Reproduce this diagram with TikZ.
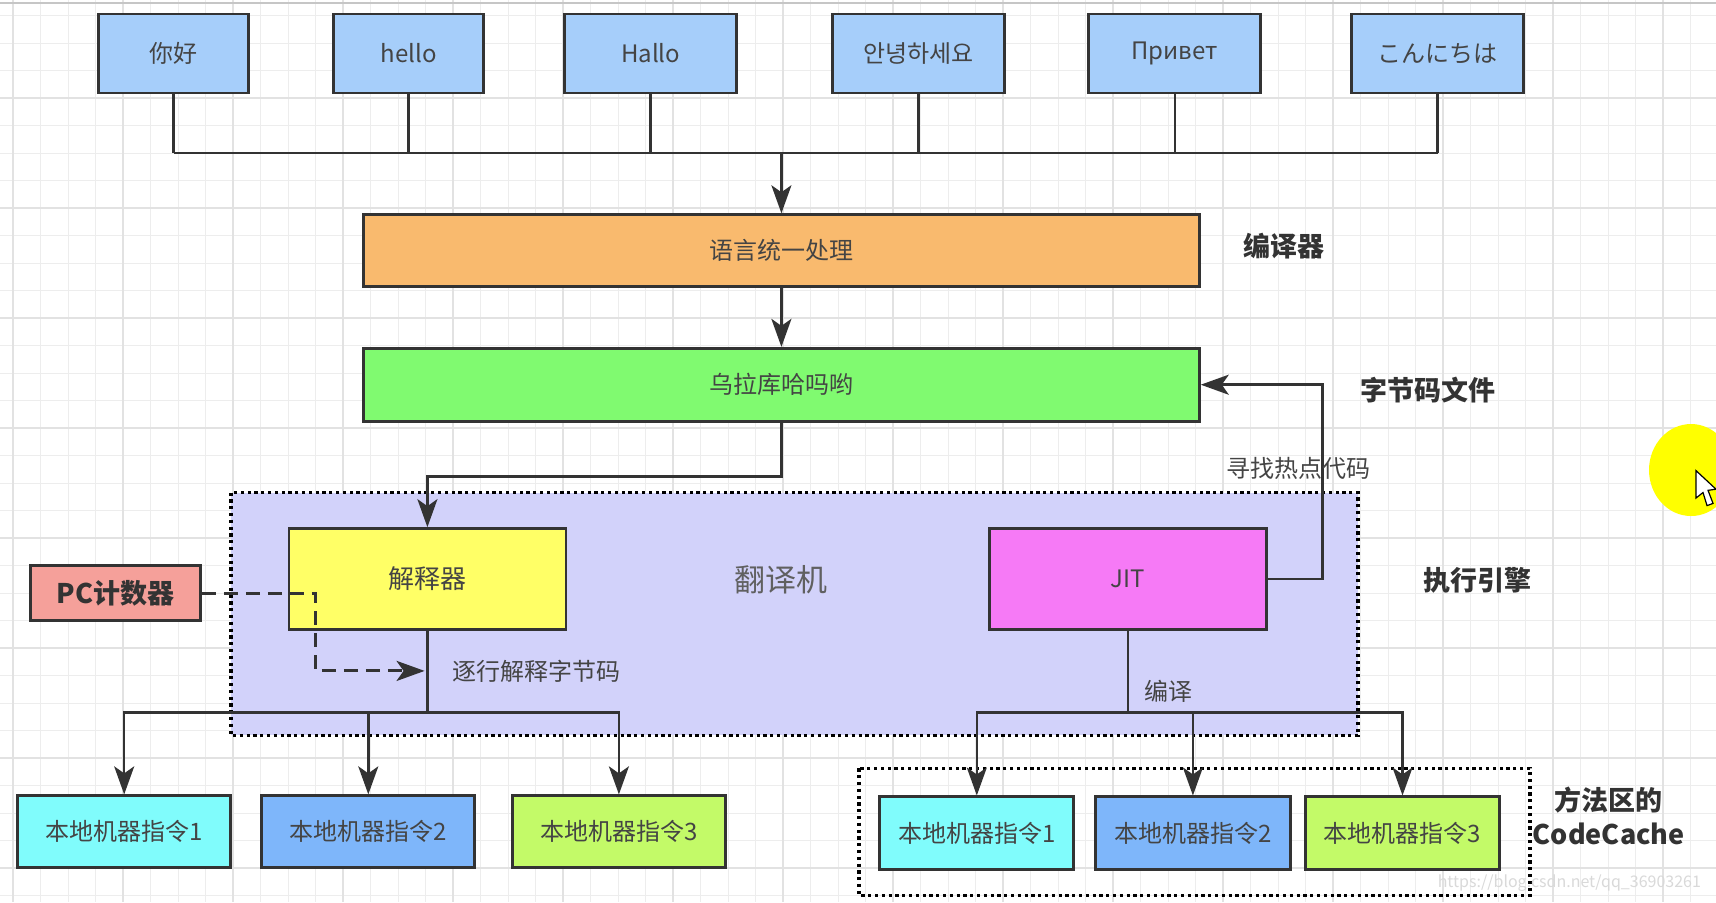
\documentclass[tikz,border=0pt]{standalone}
\usepackage{fontspec}
\setmainfont{Noto Sans CJK SC}
\usetikzlibrary{arrows.meta,positioning}

\definecolor{lineGray}{HTML}{333333}
\definecolor{textGray}{HTML}{444444}
\definecolor{gridGray}{HTML}{EDEDED}
\definecolor{gridDark}{HTML}{E2E2E2}
\definecolor{langBlue}{HTML}{A6CEFA}
\definecolor{unifyOrange}{HTML}{F9BA6E}
\definecolor{byteGreen}{HTML}{80FA70}
\definecolor{engineLilac}{HTML}{D2D2FA}
\definecolor{interpYellow}{HTML}{FFFF66}
\definecolor{jitPink}{HTML}{F67AF6}
\definecolor{pcRed}{HTML}{F5A09A}
\definecolor{codeCyan}{HTML}{80FCFC}
\definecolor{codeBlue}{HTML}{7EB6FA}
\definecolor{codeLime}{HTML}{C3FA68}
\definecolor{cursorYellow}{HTML}{FFFF00}

\begin{document}
\begin{tikzpicture}[
    x=0.5pt, y=-0.5pt,
    box/.style={draw=lineGray, line width=1.35pt, inner sep=0pt, text=textGray, font=\fontsize{12}{14}\selectfont},
    wire/.style={draw=lineGray, line width=1.25pt},
    arrow_line/.style={wire, -{Stealth[length=14pt, width=10pt, inset=3.5pt]}},
    dashed_arrow/.style={arrow_line, line width=1.5pt, dash pattern=on 7pt off 4pt},
    dotted_region/.style={draw=black, line width=1.6pt, dash pattern=on 1.6pt off 1.8pt},
    side_label/.style={font=\bfseries\fontsize{13.5}{17}\selectfont, text=lineGray},
    note/.style={font=\fontsize{12}{14}\selectfont, text=textGray},
    grid_line/.style={draw=gridGray, line width=0.5pt},
    grid_major/.style={draw=gridDark, line width=0.9pt}
]
    % Define coordinates
    \def\topY{53.5}
    \def\busY{153.2}
    \def\lowBusY{712.5}
    \def\engY{579}

    \useasboundingbox (0,0) rectangle (1716,902);
    \fill[white] (0,0) rectangle (1716,902);

    % Background grid
    \foreach \k in {0,...,62} {
        \draw[grid_line] ({13.3+27.5*\k},0) -- ({13.3+27.5*\k},902);
    }
    \foreach \k in {0,...,32} {
        \draw[grid_line] (0,{15.8+27.5*\k}) -- (1716,{15.8+27.5*\k});
    }
    \foreach \k in {0,...,15} {
        \draw[grid_major] ({13.3+110*\k},0) -- ({13.3+110*\k},902);
    }
    \foreach \k in {1,...,8} {
        \draw[grid_major] (0,{-11.7+110*\k}) -- (1716,{-11.7+110*\k});
    }
    \draw[gray!45, line width=1pt] (0,3) -- (1716,3);

    % Execution engine and code cache regions
    \draw[dotted_region, fill=engineLilac] (231,492.5) rectangle (1358,735.4);
    \draw[dotted_region] (859,768.3) rectangle (1530,895.2);

    % Source languages
    \node[box, fill=langBlue, minimum width=75pt, minimum height=39.5pt] (nihao) at (173.5,\topY) {你好};
    \node[box, fill=langBlue, minimum width=75pt, minimum height=39.5pt] (hello) at (408.7,\topY) {hello};
    \node[box, fill=langBlue, minimum width=86pt, minimum height=39.5pt] (hallo) at (650.6,\topY) {Hallo};
    \node[box, fill=langBlue, minimum width=86pt, minimum height=39.5pt] (annyeong) at (918.7,\topY) {안녕하세요};
    \node[box, fill=langBlue, minimum width=86pt, minimum height=39.5pt] (privet) at (1174.8,\topY) {Привет};
    \node[box, fill=langBlue, minimum width=86pt, minimum height=39.5pt] (konnichiwa) at (1437.5,\topY) {こんにちは};

    % Compiler and bytecode
    \node[box, fill=unifyOrange, minimum width=418pt, minimum height=36pt] (unify) at (781.4,250.6) {语言统一处理};
    \node[box, fill=byteGreen, minimum width=418pt, minimum height=36.5pt] (bytecode) at (781.4,384.7) {乌拉库哈吗哟};

    % Engine parts
    \node[box, fill=interpYellow, minimum width=138.5pt, minimum height=50.5pt, font=\fontsize{13}{15}\selectfont] (interp) at (427.4,\engY) {解释器};
    \node[box, fill=jitPink, minimum width=138.5pt, minimum height=50.5pt] (jit) at (1127.8,\engY) {JIT};
    \node[box, fill=pcRed, minimum width=85pt, minimum height=27.5pt, font=\bfseries\fontsize{13.5}{15}\selectfont, text=lineGray] (pc) at (115.5,593) {PC计数器};

    % Native code, interpreted
    \node[box, fill=codeCyan, minimum width=106.5pt, minimum height=36pt] (natA) at (124.2,831.7) {本地机器指令1};
    \node[box, fill=codeBlue, minimum width=106.5pt, minimum height=36pt] (natB) at (368.3,831.7) {本地机器指令2};
    \node[box, fill=codeLime, minimum width=106.5pt, minimum height=36pt] (natC) at (618.9,831.7) {本地机器指令3};

    % Native code, compiled (CodeCache)
    \node[box, fill=codeCyan, minimum width=97pt, minimum height=36.5pt] (cacheA) at (976.8,833.3) {本地机器指令1};
    \node[box, fill=codeBlue, minimum width=97.5pt, minimum height=36.5pt] (cacheB) at (1192.9,833.3) {本地机器指令2};
    \node[box, fill=codeLime, minimum width=97pt, minimum height=36.5pt] (cacheC) at (1402.5,833.3) {本地机器指令3};

    % Helper coordinates
    \coordinate (bus) at (0,\busY);
    \coordinate (lowbus) at (0,\lowBusY);
    \coordinate (readtip) at (424.6,670.9);

    % Languages into the compiler
    \foreach \n in {nihao, hello, hallo, annyeong, privet, konnichiwa} {
        \draw[wire] (\n.south) -- (\n.south |- bus);
    }
    \draw[wire] (nihao.south |- bus) -- (konnichiwa.south |- bus);
    \draw[arrow_line] (unify.north |- bus) -- (unify.north);
    \draw[arrow_line] (unify.south) -- (bytecode.north);

    % Bytecode into the interpreter, hot spots back
    \draw[arrow_line] (bytecode.south) -- ++(0,53.7) -| (interp.north);
    \draw[arrow_line] (jit.east) -- ++(54.8,0) |- (bytecode.east);
    \draw[dashed_arrow] (pc.east) -- ++(113.7,0) |- (readtip);

    % Fan out to native code
    \foreach \b in {natA, natB, natC} {
        \draw[arrow_line] (interp.south) -- (interp.south |- lowbus) -| (\b.north);
    }
    \foreach \b in {cacheA, cacheB, cacheC} {
        \draw[arrow_line] (jit.south) -- (jit.south |- lowbus) -| (\b.north);
    }

    % Labels
    \node[side_label] (lblCompiler) at (1283.7,246.2) {编译器};
    \node[side_label] (lblBytecode) at (1428,389.6) {字节码文件};
    \node[side_label] (lblEngine) at (1477.4,580) {执行引擎};
    \node[side_label, align=center] (lblCache) at (1608.8,816) {方法区的\\CodeCache};
    \node[font=\fontsize{15.5}{18}\selectfont, text=textGray!85] (lblTranslator) at (781.4,580) {翻译机};
    \node[note] (lblHot) at (1298,468.4) {寻找热点代码};
    \node[note, anchor=west] (lblRead) at (445.4,670.9) {逐行解释字节码};
    \node[note] (lblCompile) at (1168.8,691.7) {编译};
    \node[font=\fontsize{8}{9}\selectfont, text=gray!30, anchor=east] (lblMark) at (1708,883) {https://blog.csdn.net/qq\_36903261};

    % Screen cursor
    \fill[cursorYellow] (1691,470) ellipse [x radius=42, y radius=46];
    \draw[fill=white, line width=0.6pt] (1696,470.6) -- (1696,498) -- (1703,492.5) -- (1707,505.6) -- (1713,503.4) -- (1708,490.3) -- (1716,489.2) -- cycle;

\end{tikzpicture}
\end{document}
